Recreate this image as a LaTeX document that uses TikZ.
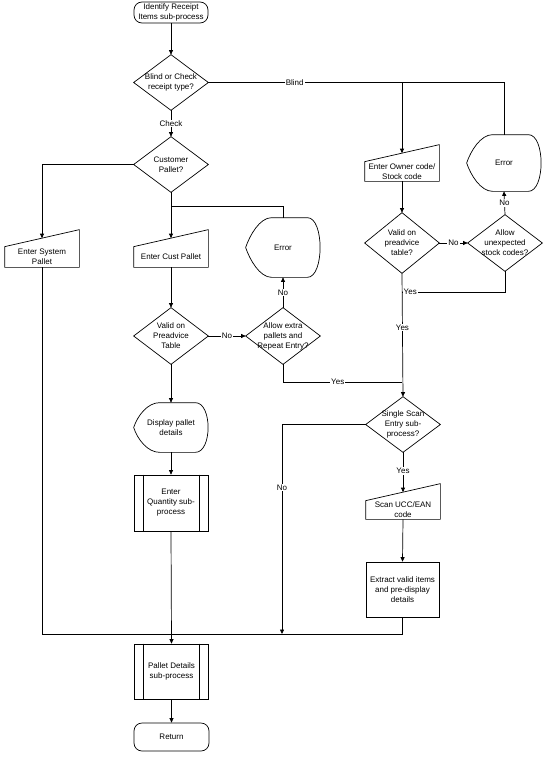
\documentclass[tikz,border=0pt]{standalone}
\usepackage{fontspec}
\setmainfont{Liberation Sans}
\usetikzlibrary{arrows.meta}
\begin{document}
\begin{tikzpicture}[x=1pt,y=-1pt,line width=0.7pt,
  base/.style={font=\fontsize{8}{10}\selectfont, align=center, inner sep=0pt},
  term/.style={base, draw, rounded corners=8pt, minimum width=74pt},
  dia/.style={base, minimum width=74pt, minimum height=56pt},
  manin/.style={base, minimum width=74pt, minimum height=20pt},
  disp/.style={base, minimum width=74pt, minimum height=56pt},
  pproc/.style={base, draw, minimum width=74pt, minimum height=56pt},
  procbox/.style={base, draw, minimum width=73pt, minimum height=55pt},
  arr/.style={-{Triangle[length=4.5pt,width=4pt]}},
  lbl/.style={font=\fontsize{8}{10}\selectfont, fill=white, inner sep=1pt}]
\fill[white] (0,0) rectangle (556,760);
\useasboundingbox (0,0) rectangle (556,760);

% nodes
\node[term, minimum height=21pt] (top) at (171,12.5) {Identify Receipt\\Items sub-process};
\node[dia, minimum height=55pt] (d1) at (171,82.5) {Blind or Check\\receipt type?};
\node[dia, minimum height=55pt] (d2) at (171,164.5) {Customer\\Pallet?};
\node[manin] (sys) at (42,257) {Enter System\\Pallet};
\node[manin] (cust) at (171,257) {Enter Cust Pallet};
\node[disp, minimum height=59pt] (err1) at (283,247.5) {Error};
\node[dia] (d3) at (171,336) {Valid on\\Preadvice\\Table};
\node[dia] (d4) at (283,336) {Allow extra\\pallets and\\Repeat Entry?};
\node[disp, minimum height=49pt] (dispn) at (171,427.5) {Display pallet\\details};
\node[pproc] (qty) at (171,503) {Enter\\Quantity sub-\\process};
\node[manin, minimum height=19pt] (owner) at (402,171.5) {Enter Owner code/\\Stock code};
\node[disp] (err2) at (504,163) {Error};
\node[dia, minimum height=60pt] (d5) at (402,243) {Valid on\\preadvice\\table?};
\node[dia] (d6) at (505,243) {Allow\\unexpected\\stock codes?};
\node[dia, minimum height=55pt] (d7) at (403,424.5) {Single Scan\\Entry sub-\\process?};
\node[manin, minimum height=18pt] (scan) at (403,510) {Scan UCC/EAN\\code};
\node[procbox] (ext) at (402.5,589.5) {Extract valid items\\and pre-display\\details};
\node[pproc, minimum height=55pt] (pd) at (171.5,671.5) {Pallet Details\\sub-process};
\node[term, minimum height=28pt, minimum width=75pt] (ret) at (171.5,737) {Return};

% junction coordinates
\coordinate (jB) at (402,82.5);
\coordinate (jC) at (171,206);
\coordinate (jY) at (402,382);
\coordinate (jU) at (402,292);
\coordinate (mL) at (42,634);
\coordinate (mN) at (282,634);
\coordinate (mR) at (402.5,634);

% outlines
\foreach \n in {d1,d2,d3,d4,d5,d6,d7}
  \draw (\n.north) -- (\n.east) -- (\n.south) -- (\n.west) -- cycle;
\foreach \n in {sys,cust,owner,scan}
  \draw (\n.north west) -- ([yshift=17pt]\n.north east) -- (\n.south east) -- (\n.south west) -- cycle;
\foreach \n in {err1,err2,dispn}
  \draw ([xshift=26pt]\n.north west) -- ([xshift=-13pt]\n.north east)
    .. controls ([xshift=4pt]\n.north east) and ([xshift=4pt]\n.south east) .. ([xshift=-13pt]\n.south east)
    -- ([xshift=26pt]\n.south west)
    .. controls ([xshift=14pt]\n.south west) and ([xshift=4pt,yshift=-12pt]\n.west) .. (\n.west)
    .. controls ([xshift=4pt,yshift=12pt]\n.west) and ([xshift=14pt]\n.north west) .. ([xshift=26pt]\n.north west) -- cycle;
\foreach \n in {qty,pd}{
  \draw ([xshift=9.5pt]\n.north west) -- ([xshift=9.5pt]\n.south west);
  \draw ([xshift=-9.5pt]\n.north east) -- ([xshift=-9.5pt]\n.south east);
}

% connectors
\draw[arr] (top) -- (d1);
\draw[arr] (d1.south) -- node[lbl]{Check} (d2.north);
\draw (d1.east) -- node[lbl, pos=0.446]{Blind} (jB) -- (err2.north |- jB) -- (err2.north);
\draw[arr] (jB) -- ([yshift=8.5pt]owner.north);
\draw[arr] (d2.west) -| ([yshift=8.5pt]sys.north);
\draw[arr] (d2.south) -- ([yshift=8.5pt]cust.north);
\draw (err1.north) |- (jC);
\draw[arr] (cust.south) -- (d3.north);
\draw[arr] (d3.east) -- node[lbl]{No} (d4.west);
\draw[arr] (d4.north) -- node[lbl]{No} (err1.south);
\draw (d4.south) |- node[lbl, pos=0.73]{Yes} (jY);
\draw[arr] (d3.south) -- (dispn.north);
\draw[arr] (dispn.south) -- (qty.north);
\draw[arr] (qty.south) -- (pd.north);
\draw[arr] (pd.south) -- (ret.north);
\draw[arr] (owner.south) -- (d5.north);
\draw[arr] (d5.east) -- node[lbl]{No} (d6.west);
\draw[arr] (d6.north) -- node[lbl]{No} (err2.south);
\draw (d6.south) |- node[lbl, pos=0.96]{Yes} (jU);
\draw[arr] (d5.south) -- node[lbl, pos=0.44]{Yes} (d7.north);
\draw[arr] (d7.west) -| node[lbl, pos=0.65]{No} (mN);
\draw[arr] (d7.south) -- node[lbl, pos=0.47]{Yes} ([yshift=8.5pt]scan.north);
\draw[arr] (scan.south) -- (ext.north);
\draw (sys.south) -- (mL) -- (mR) -- (ext.south);
\end{tikzpicture}
\end{document}
